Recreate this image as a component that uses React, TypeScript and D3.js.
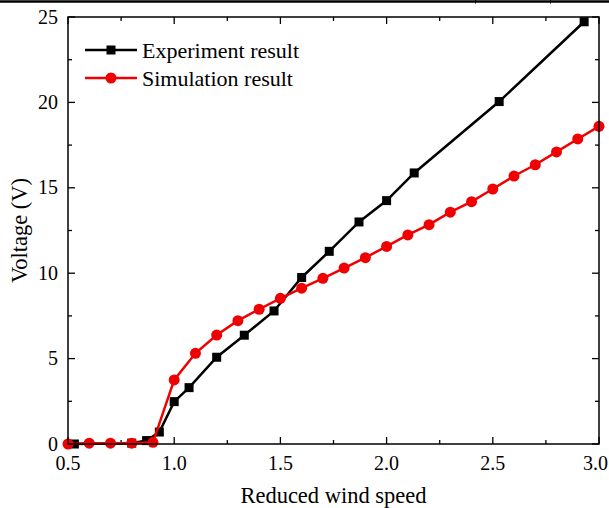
import React, { useEffect, useRef } from "react";
import * as d3 from "d3";

const expX = [0.53, 0.8, 0.87, 0.93, 1.0, 1.07, 1.2, 1.33, 1.47, 1.6, 1.73, 1.87, 2.0, 2.13, 2.53, 2.93];
const expY = [0, 0.05, 0.2, 0.7, 2.48, 3.3, 5.08, 6.37, 7.79, 9.75, 11.28, 13.0, 14.25, 15.87, 20.05, 24.72];

const simX = [0.5, 0.6, 0.7, 0.8, 0.9, 1.0, 1.1, 1.2, 1.3, 1.4, 1.5, 1.6, 1.7, 1.8, 1.9, 2.0, 2.1, 2.2, 2.3, 2.4, 2.5, 2.6, 2.7, 2.8, 2.9, 3.0];
const simY = [0, 0.05, 0.05, 0.05, 0.1, 3.75, 5.31, 6.38, 7.22, 7.89, 8.53, 9.12, 9.7, 10.3, 10.91, 11.57, 12.24, 12.84, 13.57, 14.19, 14.93, 15.69, 16.35, 17.1, 17.86, 18.6];

const xTicks = [0.5, 1.0, 1.5, 2.0, 2.5, 3.0];
const xMinor = [0.75, 1.25, 1.75, 2.25, 2.75];
const yTicks = [0, 5, 10, 15, 20, 25];
const yMinor = [2.5, 7.5, 12.5, 17.5, 22.5];

const seriesNames = ["Experiment result", "Simulation result"];
const xTitle = "Reduced wind speed";
const yTitle = "Voltage (V)";

export default function App() {
  const ref = useRef<SVGSVGElement>(null);
  useEffect(() => {
    const svg = d3.select(ref.current);
    svg.selectAll("*").remove();
    const W = 609;
    const L = 68, R = 599, T = 17, B = 444;
    const x = d3.scaleLinear().domain([0.5, 3.0]).range([L, R]);
    const y = d3.scaleLinear().domain([0, 25]).range([B, T]);
    const font = "'Liberation Serif', 'Times New Roman', serif";

    // top fragment of page (rule line from surrounding document)
    svg.append("line").attr("x1", 0).attr("x2", W).attr("y1", 1.5).attr("y2", 1.5).attr("stroke", "#000").attr("stroke-width", 2.5);
    [475.5, 550.5].forEach((xx) => svg.append("line").attr("x1", xx).attr("x2", xx).attr("y1", 0).attr("y2", 3.5).attr("stroke", "#000").attr("stroke-width", 1));

    const g = svg.append("g");
    const tk = (v: number[], len: number) => {
      v.forEach((t) => {
        g.append("line").attr("x1", x(t)).attr("x2", x(t)).attr("y1", B).attr("y2", B - len).attr("stroke", "#000").attr("stroke-width", 1.3);
        g.append("line").attr("x1", x(t)).attr("x2", x(t)).attr("y1", T).attr("y2", T + len).attr("stroke", "#000").attr("stroke-width", 1.3);
      });
    };
    const tky = (v: number[], len: number) => {
      v.forEach((t) => {
        g.append("line").attr("x1", L).attr("x2", L + len).attr("y1", y(t)).attr("y2", y(t)).attr("stroke", "#000").attr("stroke-width", 1.3);
        g.append("line").attr("x1", R).attr("x2", R - len).attr("y1", y(t)).attr("y2", y(t)).attr("stroke", "#000").attr("stroke-width", 1.3);
      });
    };
    tk(xTicks, 7); tk(xMinor, 4); tky(yTicks, 7); tky(yMinor, 4);

    xTicks.forEach((t) => {
      const txt = g.append("text").attr("y", 470).attr("font-family", font).attr("font-size", 20).text(t.toFixed(1));
      const half = 11.5;
      if (x(t) + half > W - 1) txt.attr("x", W - 1).attr("text-anchor", "end");
      else txt.attr("x", x(t)).attr("text-anchor", "middle");
    });
    yTicks.forEach((t) => {
      g.append("text").attr("x", 58).attr("y", y(t) + 6.5).attr("text-anchor", "end").attr("font-family", font).attr("font-size", 20).text(String(t));
    });
    g.append("text").attr("x", (L + R) / 2).attr("y", 503).attr("text-anchor", "middle").attr("font-family", font).attr("font-size", 22.5).text(xTitle);
    g.append("text").attr("transform", `translate(27,${(T + B) / 2}) rotate(-90)`).attr("text-anchor", "middle").attr("font-family", font).attr("font-size", 22.5).text(yTitle);

    const line = d3.line<[number, number]>().x((d) => x(d[0])).y((d) => y(d[1]));
    const exp: [number, number][] = expX.map((v, i) => [v, expY[i]]);
    const sim: [number, number][] = simX.map((v, i) => [v, simY[i]]);

    g.append("path").attr("d", line(exp)).attr("fill", "none").attr("stroke", "#000").attr("stroke-width", 2.5);
    g.selectAll(".sq").data(exp).enter().append("rect").attr("x", (d) => x(d[0]) - 4.5).attr("y", (d) => y(d[1]) - 4.5).attr("width", 9).attr("height", 9).attr("fill", "#000");
    g.append("path").attr("d", line(sim)).attr("fill", "none").attr("stroke", "#f00000").attr("stroke-width", 2.5);
    g.selectAll(".ci").data(sim).enter().append("circle").attr("cx", (d) => x(d[0])).attr("cy", (d) => y(d[1])).attr("r", 5.5).attr("fill", "#f00000");

    g.append("rect").attr("x", L).attr("y", T).attr("width", R - L).attr("height", B - T).attr("fill", "none").attr("stroke", "#000").attr("stroke-width", 1.5);

    const legY = [50, 78];
    const colors = ["#000", "#f00000"];
    seriesNames.forEach((n, i) => {
      g.append("line").attr("x1", 85).attr("x2", 137).attr("y1", legY[i]).attr("y2", legY[i]).attr("stroke", colors[i]).attr("stroke-width", 2.5);
      if (i === 0) g.append("rect").attr("x", 106.5).attr("y", legY[i] - 4.5).attr("width", 9).attr("height", 9).attr("fill", colors[i]);
      else g.append("circle").attr("cx", 111).attr("cy", legY[i]).attr("r", 5.5).attr("fill", colors[i]);
      g.append("text").attr("x", 142).attr("y", legY[i] + 7.5).attr("font-family", font).attr("font-size", 22).text(n);
    });
  }, []);
  return (
    <svg ref={ref} width={609} height={508} style={{ position: "absolute", left: 0, top: 0, background: "#fff" }} />
  );
}
